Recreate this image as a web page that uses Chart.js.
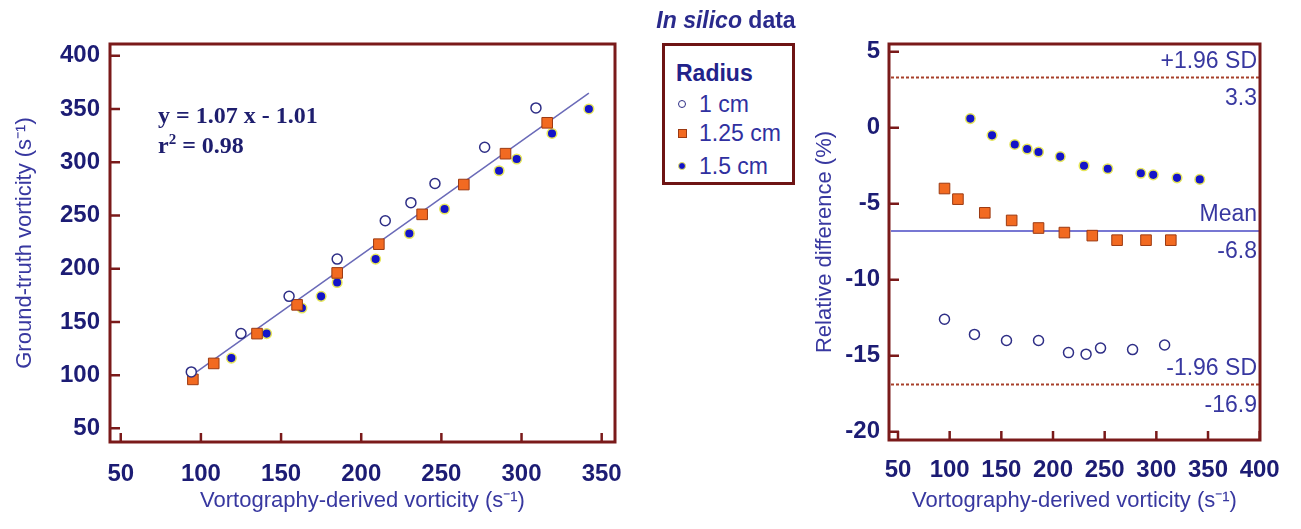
<!DOCTYPE html>
<html lang="en">

<head>
    <meta charset="UTF-8">
    <title>In silico data</title>
    <script src="https://cdnjs.cloudflare.com/ajax/libs/Chart.js/4.4.1/chart.umd.min.js"></script>
    <style>
        body { margin: 0; background: #fff; font-family: "Liberation Sans", Arial, sans-serif; }
        .wrap { position: relative; width: 1301px; height: 529px; overflow: hidden; }
        canvas { position: absolute; top: 0; }
        #leftChart { left: 0; }
        #rightChart { left: 780px; }
        .title { position: absolute; left: 600px; width: 252px; top: 6px; text-align: center;
            font-size: 23px; font-weight: bold; color: #2a2a8c; line-height: 28px; }
        .legend { position: absolute; left: 662px; top: 43px; width: 127px; height: 136px;
            border: 3px solid #6e1414; background: #fff; color: #3030a0; font-size: 23px; }
        .legend div { position: absolute; left: 34px; line-height: 26px; white-space: nowrap; }
        .legend .head { left: 11px; font-weight: bold; color: #22228a; }
        .mk { position: absolute; box-sizing: border-box; }
        .eq { position: absolute; left: 158px; font-family: "Liberation Serif", serif; font-weight: bold;
            font-size: 24px; color: #1e1e6e; line-height: 28px; }
    </style>
</head>

<body>
    <div class="wrap">
        <canvas id="leftChart" width="650" height="529"></canvas>
        <canvas id="rightChart" width="521" height="529"></canvas>
        <div class="title"><i>In silico</i> data</div>
        <div class="eq" style="top:101px">y = 1.07 x - 1.01</div>
        <div class="eq" style="top:131px">r<sup style="font-size:15px;line-height:0">2</sup> = 0.98</div>
        <div class="legend">
            <div class="head" style="top:14px">Radius</div>
            <span class="mk" style="left:13px;top:54px;width:8px;height:8px;border:1.5px solid #2e2e86;border-radius:50%"></span>
            <div style="top:45px">1 cm</div>
            <span class="mk" style="left:13px;top:83px;width:9px;height:9px;background:#f26a21;border:1px solid #9c3a12"></span>
            <div style="top:74px">1.25 cm</div>
            <span class="mk" style="left:13px;top:116px;width:8px;height:8px;background:#1414c8;border:1px solid #e6e65a;border-radius:50%"></span>
            <div style="top:107px">1.5 cm</div>
        </div>
    </div>

    <script>
        // left panel: ground truth vs vortography
        const cm1X = [94, 125, 155, 185, 215, 231, 246, 277, 309];
        const cm1Y = [103, 139, 174, 209, 245, 262, 280, 314, 351];
        const cm125X = [95, 108, 135, 160, 185, 211, 238, 264, 290, 316];
        const cm125Y = [96, 111, 139, 166, 196, 223, 251, 279, 308, 337];
        const cm15X = [119, 141, 163, 175, 185, 209, 230, 252, 286, 297, 319, 342];
        const cm15Y = [116, 139, 163, 174, 187, 209, 233, 256, 292, 303, 327, 350];
        const fitX = [94, 342];
        const fitY = [99.6, 364.9];
        const leftXTicks = [50, 100, 150, 200, 250, 300, 350];
        const leftYTicks = [50, 100, 150, 200, 250, 300, 350, 400];

        // right panel: relative difference
        const d1X = [95, 124, 155, 186, 215, 232, 246, 277, 308];
        const d1Y = [-12.6, -13.6, -14.0, -14.0, -14.8, -14.9, -14.5, -14.6, -14.3];
        const d125X = [95, 108, 134, 160, 186, 211, 238, 262, 290, 314];
        const d125Y = [-4.0, -4.7, -5.6, -6.1, -6.6, -6.9, -7.1, -7.4, -7.4, -7.4];
        const d15X = [120, 141, 163, 175, 186, 207, 230, 253, 285, 297, 320, 342];
        const d15Y = [0.6, -0.5, -1.1, -1.4, -1.6, -1.9, -2.5, -2.7, -3.0, -3.1, -3.3, -3.4];
        const refValues = [3.3, -6.8, -16.9];
        const refNames = ['+1.96 SD', 'Mean', '-1.96 SD'];
        const rightXTicks = [50, 100, 150, 200, 250, 300, 350, 400];
        const rightYTicks = [5, 0, -5, -10, -15, -20];

        const frameColor = '#7a1a1a';
        const tickColor = '#1c1c74';
        const labelColor = '#3838a0';
        const tickFont = { family: 'Liberation Sans', size: 24, weight: 'bold' };
        const titleFont = { family: 'Liberation Sans', size: 22 };

        function pts(xs, ys) {
            return xs.map((x, i) => ({ x: x, y: ys[i] }));
        }

        const circleStyle = { pointStyle: 'circle', pointRadius: 5, pointBackgroundColor: '#fff', pointBorderColor: '#2e2e86', pointBorderWidth: 1.5 };
        const squareStyle = { pointStyle: 'rect', pointRadius: 7.5, pointBackgroundColor: '#f26a21', pointBorderColor: '#9c3a12', pointBorderWidth: 1 };
        const dotStyle = { pointStyle: 'circle', pointRadius: 4.8, pointBackgroundColor: '#1414c8', pointBorderColor: '#e6e65a', pointBorderWidth: 1.5 };

        // frame + inward tick marks
        const framePlugin = {
            id: 'frame',
            afterDraw(chart) {
                const { ctx, chartArea: a, scales: { x, y } } = chart;
                ctx.save();
                ctx.strokeStyle = frameColor;
                ctx.lineWidth = 3;
                ctx.strokeRect(a.left, a.top, a.right - a.left, a.bottom - a.top);
                ctx.lineWidth = 2.5;
                ctx.beginPath();
                x.ticks.forEach(t => {
                    const px = x.getPixelForValue(t.value);
                    ctx.moveTo(px, a.bottom);
                    ctx.lineTo(px, a.bottom - 9);
                });
                y.ticks.forEach(t => {
                    const py = y.getPixelForValue(t.value);
                    ctx.moveTo(a.left, py);
                    ctx.lineTo(a.left + 10, py);
                });
                ctx.stroke();
                ctx.restore();
            }
        };

        // reference lines for the Bland-Altman panel
        const refPlugin = {
            id: 'refLines',
            beforeDatasetsDraw(chart) {
                const { ctx, chartArea: a, scales: { y } } = chart;
                ctx.save();
                refValues.forEach((v, i) => {
                    const py = y.getPixelForValue(v);
                    ctx.beginPath();
                    if (i == 1) {
                        ctx.setLineDash([]);
                        ctx.strokeStyle = '#4a4ac4';
                        ctx.lineWidth = 1.5;
                    } else {
                        ctx.setLineDash([3, 2]);
                        ctx.strokeStyle = '#a8402a';
                        ctx.lineWidth = 2;
                    }
                    ctx.moveTo(a.left + 2, py);
                    ctx.lineTo(a.right, py);
                    ctx.stroke();
                    ctx.fillStyle = labelColor;
                    ctx.font = '23px "Liberation Sans"';
                    ctx.textAlign = 'right';
                    ctx.textBaseline = 'middle';
                    ctx.fillText(refNames[i], a.right - 3, py - 16);
                    ctx.fillText(String(v), a.right - 3, py + 21);
                });
                ctx.restore();
            }
        };

        function axis(min, max, tickList, size, isX, title, titlePad, tickPad) {
            return {
                type: 'linear',
                min: min,
                max: max,
                afterBuildTicks: s => { s.ticks = tickList.map(v => ({ value: v })); },
                afterFit: s => { if (isX) s.height = size; else s.width = size; },
                grid: { display: false, drawTicks: false },
                border: { display: false },
                ticks: { font: tickFont, color: tickColor, padding: tickPad, autoSkip: false, maxRotation: 0 },
                title: { display: true, text: title, font: titleFont, color: labelColor, padding: titlePad }
            };
        }

        new Chart(document.getElementById('leftChart'), {
            type: 'scatter',
            data: {
                datasets: [
                    Object.assign({ label: '1 cm', data: pts(cm1X, cm1Y) }, circleStyle),
                    Object.assign({ label: '1.25 cm', data: pts(cm125X, cm125Y) }, squareStyle),
                    Object.assign({ label: '1.5 cm', data: pts(cm15X, cm15Y) }, dotStyle),
                    { label: 'fit', data: pts(fitX, fitY), showLine: true, pointRadius: 0, borderColor: '#6a6ab8', borderWidth: 1.5 }
                ]
            },
            options: {
                responsive: false,
                animation: false,
                devicePixelRatio: 1,
                layout: { padding: { top: 44, right: 35, left: 0, bottom: 0 } },
                plugins: { legend: { display: false }, tooltip: { enabled: false } },
                scales: {
                    x: axis(43.3, 358.3, leftXTicks, 87, true, 'Vortography-derived vorticity (s\u207B\u00B9)', { top: 0, bottom: 15 }, 18),
                    y: axis(37.2, 411, leftYTicks, 110, false, 'Ground-truth vorticity (s\u207B\u00B9)', { top: 12, bottom: 0 }, 10)
                }
            },
            plugins: [framePlugin]
        });

        new Chart(document.getElementById('rightChart'), {
            type: 'scatter',
            data: {
                datasets: [
                    Object.assign({ label: '1 cm', data: pts(d1X, d1Y) }, circleStyle),
                    Object.assign({ label: '1.25 cm', data: pts(d125X, d125Y) }, squareStyle),
                    Object.assign({ label: '1.5 cm', data: pts(d15X, d15Y) }, dotStyle)
                ]
            },
            options: {
                responsive: false,
                animation: false,
                devicePixelRatio: 1,
                layout: { padding: { top: 44, right: 41, left: 0, bottom: 0 } },
                plugins: { legend: { display: false }, tooltip: { enabled: false } },
                scales: {
                    x: axis(41.3, 400.3, rightXTicks, 89, true, 'Vortography-derived vorticity (s\u207B\u00B9)', { top: 0, bottom: 15 }, 16),
                    y: axis(-20.55, 5.51, rightYTicks, 109, false, 'Relative difference (%)', { top: 32, bottom: 0 }, 9)
                }
            },
            plugins: [framePlugin, refPlugin]
        });
    </script>
</body>

</html>
